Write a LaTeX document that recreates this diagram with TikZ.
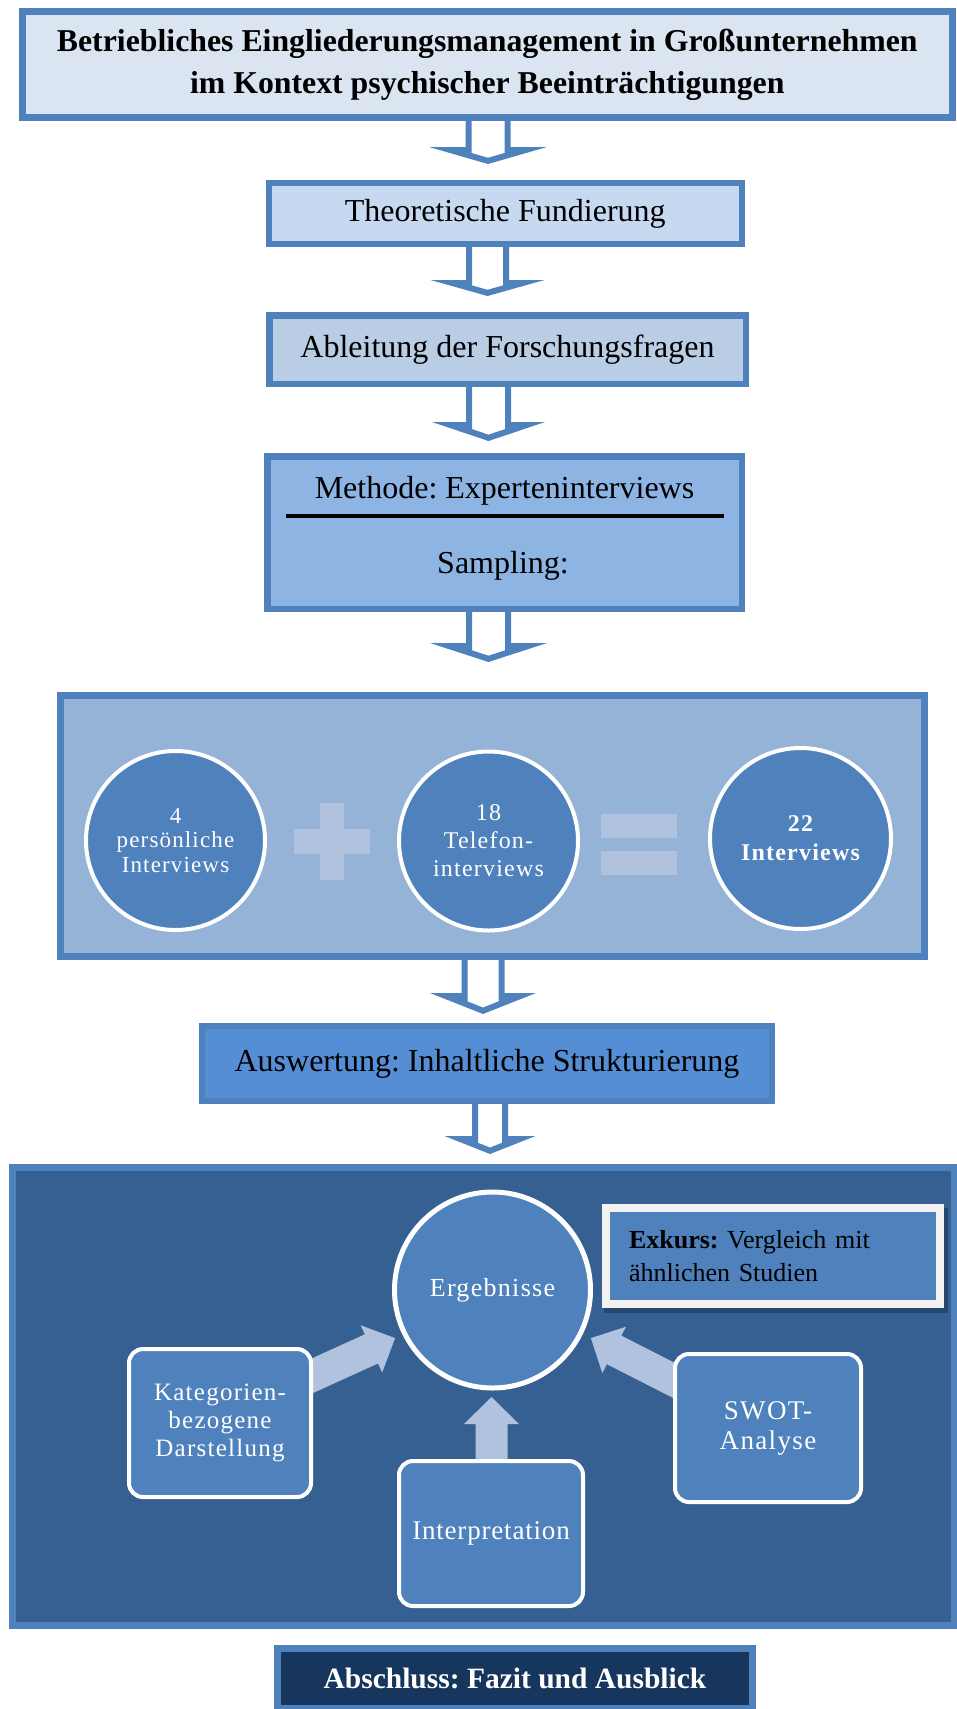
\documentclass[tikz,border=0pt]{standalone}
\usepackage{fontspec}
\setmainfont{Liberation Serif}
\newfontfamily\spaced[LetterSpace=5]{Liberation Serif}
\newfontfamily\spacedless[LetterSpace=3]{Liberation Serif}
\usetikzlibrary{calc}
\frenchspacing
\pgfdeclarelayer{back}\pgfdeclarelayer{mid}\pgfsetlayers{back,mid,main}
\definecolor{bordblue}{HTML}{4F81BD}
\definecolor{titlefill}{HTML}{DBE5F1}
\definecolor{theofill}{HTML}{C6D9F1}
\definecolor{ablfill}{HTML}{B9CDE5}
\definecolor{methfill}{HTML}{8EB4E3}
\definecolor{sampfill}{HTML}{95B3D7}
\definecolor{auswfill}{HTML}{558ED5}
\definecolor{bigfill}{HTML}{366092}
\definecolor{circblue}{HTML}{4F81BD}
\definecolor{lightcol}{HTML}{B1C2DE}
\definecolor{exframe}{HTML}{F2F2F2}
\definecolor{shadowcol}{HTML}{27466E}
\definecolor{navy}{HTML}{17365D}
\newcommand\fsz[2]{\fontsize{#1}{#2}\selectfont}
\def\wallw{6}
\newcommand\hollowarrow[7]{% from, to, cx, shaft hw, head hw, head length, gap
  \pgfpointanchor{#1}{south}\pgfgetlastxy{\hax}{\hay}%
  \pgfpointanchor{#2}{north}\pgfgetlastxy{\hbx}{\hby}%
  \pgfmathsetmacro\hT{-1*(\hay)-8}%
  \pgfmathsetmacro\hP{-1*(\hby)-#7}%
  \pgfmathsetmacro\hF{\hP-#6}%
  \pgfmathsetmacro\hS{#6/#5}%
  \pgfmathsetmacro\hO{\wallw*sqrt(1+\hS*\hS)}%
  \pgfmathsetmacro\hA{\hF+(#5-#4+\wallw)*\hS-\hO}%
  \pgfmathsetmacro\hI{\hP-\hO}%
  \fill[hollow] (#3-#4,\hT) -- (#3-#4,\hF) -- (#3-#5,\hF) -- (#3,\hP) -- (#3+#5,\hF) -- (#3+#4,\hF) -- (#3+#4,\hT) -- cycle
    (#3-#4+\wallw,\hT) -- (#3-#4+\wallw,\hA) -- (#3,\hI) -- (#3+#4-\wallw,\hA) -- (#3+#4-\wallw,\hT) -- cycle;
}
\newcommand\blockarrow[5]{% start, end, shaft hw, head hw, head length
  \coordinate (bas) at (#1);
  \coordinate (bae) at (#2);
  \pgfmathanglebetweenpoints{\pgfpointanchor{bas}{center}}{\pgfpointanchor{bae}{center}}%
  \let\baang\pgfmathresult
  \pgfpointdiff{\pgfpointanchor{bas}{center}}{\pgfpointanchor{bae}{center}}%
  \pgfgetlastxy{\bdx}{\bdy}%
  \pgfmathsetmacro\balen{veclen(\bdx,\bdy)}%
  \begin{scope}[shift={(bas)}, rotate=\baang]
    \fill[lightarrow] (0,-#3) -- (\balen-#5,-#3) -- (\balen-#5,-#4) -- (\balen,0) -- (\balen-#5,#4) -- (\balen-#5,#3) -- (0,#3) -- cycle;
  \end{scope}%
}
\tikzset{
  box/.style={rectangle, draw=bordblue, inner sep=0pt, align=center, text=black, font=\fsz{32}{38}},
  circ/.style={circle, draw=white, line width=4pt, fill=circblue, inner sep=0pt, align=center, text=white},
  rbox/.style={rectangle, rounded corners=14pt, draw=white, line width=4pt, fill=circblue, inner sep=0pt, align=center, text=white},
  sign/.style={fill=lightcol},
  lightarrow/.style={fill=lightcol},
  hollow/.style={fill=bordblue, even odd rule},
  sepline/.style={draw=black, line width=4pt},
  plaintext/.style={anchor=base, inner sep=0pt, font=\fsz{32}{38}}
}
\begin{document}
\begin{tikzpicture}[x=1pt, y=-1pt]
\useasboundingbox (0,0) rectangle (957,1709);

% ---- flow boxes ----
\node[box, line width=7pt, fill=titlefill, minimum width=930.5pt, minimum height=106pt, font=\bfseries\fsz{31.8}{42}] (title) at (487.25,64.5)
  {Betriebliches Eingliederungsmanagement in Großunternehmen\\im Kontext psychischer Beeinträchtigungen};
\node[box, line width=6pt, fill=theofill, minimum width=473.5pt, minimum height=61pt] (theo) at (505.25,213.5) {Theoretische Fundierung};
\node[box, line width=6.5pt, fill=ablfill, minimum width=476.5pt, minimum height=68.5pt] (abl) at (507.5,349.5) {Ableitung der Forschungsfragen};
\node[box, line width=6.5pt, fill=methfill, minimum width=474.5pt, minimum height=152.5pt] (meth) at (504.5,532.5) {};
\node[plaintext] (methtxt) at (504.5,498) {Methode: Experteninterviews};
\coordinate (sepL) at (286,516);
\coordinate (sepR) at (724,516);
\draw[sepline] (sepL) -- (sepR);
\node[plaintext] (samptxt) at (503,573) {Sampling:};

% ---- sampling panel ----
\node[box, line width=7pt, fill=sampfill, minimum width=864pt, minimum height=261pt] (samp) at (492.5,826) {};
\fill[sign] (294,829) rectangle (370,854);
\fill[sign] (320,803) rectangle (344,880);
\fill[sign] (601,814) rectangle (677,838);
\fill[sign] (601,851) rectangle (677,875);
\node[circ, minimum size=179pt, font=\spaced\fsz{23}{24.5}] (c1) at (175.5,840.5) {4\\persönliche\\Interviews};
\node[circ, minimum size=179pt, font=\spaced\fsz{24}{28}] (c2) at (488.5,841) {18\\Telefon-\\interviews};
\node[circ, minimum size=181pt, font=\spaced\bfseries\fsz{24}{29}] (c3) at (800.5,838.5) {22\\Interviews};

\node[box, line width=6pt, fill=auswfill, minimum width=570pt, minimum height=75pt] (ausw) at (487,1063.5) {Auswertung: Inhaltliche Strukturierung};

% ---- results panel ----
\begin{pgfonlayer}{back}
\node[box, line width=7pt, fill=bigfill, minimum width=942pt, minimum height=458pt] (big) at (483.5,1396.5) {};
\end{pgfonlayer}
\node[circ, line width=5pt, minimum size=196pt, font=\spaced\fsz{26}{30}] (ergeb) at (492.5,1290) {Ergebnisse};
\node[draw=exframe, line width=8pt, fill=circblue, minimum width=334pt, minimum height=96pt, inner sep=0pt, text width=288pt, align=left, font=\fsz{26}{33}] (exkurs) at (773,1256)
  {\textbf{Exkurs:} Vergleich mit\\ähnlichen Studien};
\node[rbox, minimum width=182pt, minimum height=148pt, font=\spaced\fsz{25}{28}] (kat) at (220,1423) {Kategorien-\\bezogene\\Darstellung};
\node[rbox, minimum width=186pt, minimum height=148pt, font=\spaced\fsz{27}{30}] (swot) at (768,1428) {SWOT-\\Analyse};
\node[rbox, minimum width=184pt, minimum height=145pt, font=\spacedless\fsz{27}{32}] (interp) at (491,1533.5) {Interpretation};

\node[box, line width=7pt, fill=navy, minimum width=475pt, minimum height=60pt, text=white, font=\bfseries\fsz{29.5}{35}] (absch) at (515,1678.5) {Abschluss: Fazit und Ausblick};

% ---- connectors ----
\begin{pgfonlayer}{mid}
\hollowarrow{title}{theo}{488}{22.5}{59}{17}{16}
\hollowarrow{theo}{abl}{487.5}{21.5}{57}{16}{16}
\hollowarrow{abl}{meth}{488.5}{22.5}{56.5}{19}{12}
\hollowarrow{meth}{samp}{488.5}{22.5}{58.5}{19}{30}
\hollowarrow{samp}{ausw}{483}{21.5}{53}{21}{9}
\hollowarrow{ausw}{big}{490}{18}{45.5}{18}{10}
\fill[shadowcol] ($(exkurs.south west)+(2,5)$) rectangle ($(exkurs.north east)+(4,4)$);
\blockarrow{$(kat.north east)+(-10,33)$}{$(ergeb.206)+(-7,4)$}{16}{26}{26}
\blockarrow{$(swot.north west)+(10,33)$}{$(ergeb.334)+(8,4)$}{16}{26}{26}
\blockarrow{$(interp.north)+(0.5,8)$}{$(ergeb.south)+(-1,6.5)$}{16}{27.5}{27}
\end{pgfonlayer}
\end{tikzpicture}
\end{document}
